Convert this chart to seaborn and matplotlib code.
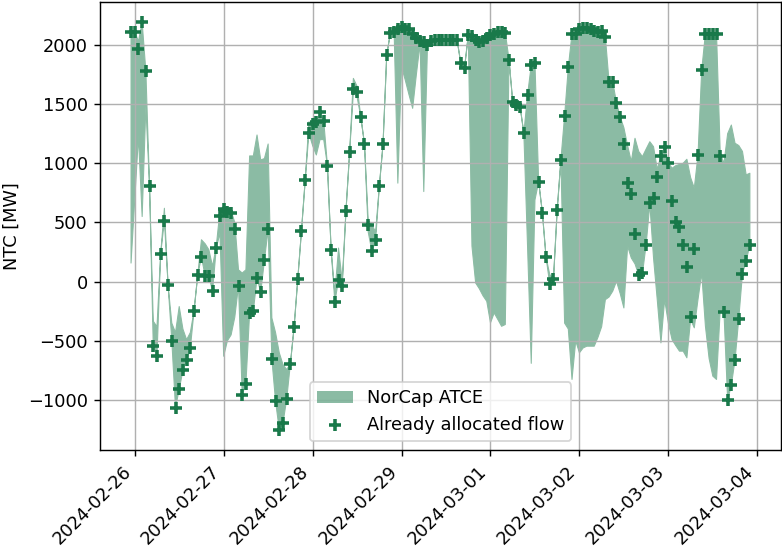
import matplotlib
matplotlib.use("Agg")
import matplotlib.pyplot as plt
import matplotlib.dates as mdates
import pandas as pd
import seaborn as sns

# hourly values, first hour 2024-02-25 23:00
start = "2024-02-25 23:00"

flow = [
    2105, 2110, 1961, 2190, 1779, 804, -545, -629, 236, 514, -31, -497,
    -1065, -910, -750, -663, -562, -247, 56, 208, 48, 48, -80, 283,
    551, 610, 592, 584, 449, -34, -955, -862, -264, -250, 31, -90,
    180, 444, -652, -1009, -1250, -1195, -994, -694, -385, 23, 432, 857,
    1253, 1331, 1348, 1430, 1359, 980, 270, -174, 17, -34, 598, 1098,
    1624, 1604, 1393, 1163, 478, 256, 348, 804, 1160, 1913, 2104, 2110,
    2130, 2152, 2138, 2130, 2096, 2054, 2034, 2025, 2000, 2034, 2039, 2039,
    2039, 2039, 2039, 2039, 2039, 1843, 1805, 2081, 2073, 2039, 2025, 2034,
    2054, 2081, 2096, 2110, 2110, 2104, 1876, 1519, 1490, 1478, 1253, 1576,
    1829, 1848, 845, 584, 205, -22, 23, 604, 1028, 1401, 1809, 2096,
    2096, 2130, 2146, 2146, 2130, 2118, 2110, 2118, 2067, 1688, 1688, 1511,
    1393, 1160, 832, 739, 400, 56, 70, 312, 663, 705, 880, 1062,
    1140, 1005, 683, 500, 463, 306, 124, -300, 280, 1070, 1787, 2096,
    2096, 2096, 2096, 1064, -255, -1000, -874, -660, -312, 67, 174, 312,
]

atce_low = [
    157, 690, 1225, 550, 1480, 804, -545, -629, 236, 514, -31, -497,
    -1065, -910, -750, -663, -562, -247, 56, 208, 48, 48, -80, 283,
    410, -630, -500, -450, -300, -34, -955, -862, -264, -250, 31, -90,
    180, 444, -652, -1009, -1250, -1195, -994, -694, -385, 23, 432, 857,
    1253, 1150, 1070, 1200, 1200, 980, 270, -174, 17, -34, 598, 1098,
    1600, 1560, 1393, 1163, 420, 256, 348, 804, 1160, 1913, 2104, 2110,
    832, 1815, 1703, 1580, 1464, 1750, 2012, 761, 2000, 2034, 2039, 2039,
    2039, 2039, 2039, 2039, 2039, 1843, 1805, 2081, 300, -11, -60, -120,
    -166, -348, -264, -320, -377, -362, 1876, 1519, 1490, 1478, 1253, 300,
    -690, 690, 845, 584, 205, -22, 23, 604, 1028, -350, -400, -826,
    -500, -601, -560, -545, -545, -545, -470, -380, -152, -130, -80, 3,
    -100, -222, 300, 200, 150, 56, 67, 312, 657, 200, -152, -517,
    -152, -350, -489, -540, -587, -587, -643, -320, -390, -150, 73, -376,
    -650, -798, -826, -236, -255, -1000, -874, -660, -312, 67, 174, 312,
]

atce_high = [
    2105, 2110, 2030, 2190, 1779, 804, -334, -380, 236, 620, -31, -350,
    -430, -210, -400, -490, -430, -247, 56, 354, 320, 270, 130, 300,
    600, 640, 620, 600, 500, 100, 73, 100, 1062, 1062, 1239, 1028,
    1040, 1163, -306, -430, -600, -700, -742, -694, -385, 23, 432, 857,
    1350, 1331, 1348, 1430, 1359, 980, 270, -100, 284, 0, 598, 1098,
    1717, 1650, 1393, 1163, 520, 480, 420, 804, 1160, 1913, 2104, 2110,
    2130, 2152, 2138, 2130, 2096, 2054, 2034, 2025, 2000, 2034, 2039, 2039,
    2039, 2039, 2039, 2039, 2039, 1843, 1805, 2081, 2073, 2039, 2025, 2034,
    2054, 2081, 2096, 2110, 2110, 2104, 1876, 1519, 1490, 1478, 1253, 1576,
    1829, 1848, 845, 584, 205, 60, 23, 604, 1028, 1401, 1809, 2096,
    2096, 2130, 2146, 2146, 2130, 2118, 2110, 2118, 2067, 1688, 1688, 1511,
    1393, 1300, 1150, 1014, 1211, 1100, 1056, 1120, 1182, 1140, 950, 1062,
    1140, 1005, 958, 980, 990, 1000, 1034, 880, 790, 1070, 1787, 2096,
    2096, 2096, 2096, 1084, 1000, 1250, 1323, 1169, 1150, 1100, 902, 916,
]

times = pd.date_range(start, periods=len(flow), freq="h")
df = pd.DataFrame({"time": times, "flow": flow, "low": atce_low, "high": atce_high})

green = "#19794a"
band = "#8cbca4"  # same green at alpha 0.5 on white

fig, ax = plt.subplots(figsize=(782 / 128, 547 / 128), dpi=128)
fig.subplots_adjust(left=0.128, right=0.9985, top=0.9963, bottom=0.1773)

ax.fill_between(df["time"], df["low"], df["high"], facecolor=green, alpha=0.5,
                edgecolor="none", label="NorCap ATCE")
ax.fill_between(df["time"], df["low"], df["high"], facecolor="none",
                edgecolor=band, linewidth=0.6)
sns.scatterplot(data=df, x="time", y="flow", marker="+", s=50, linewidth=2,
                color=green, label="Already allocated flow", ax=ax, zorder=3)

ax.grid(True)
ax.xaxis.set_major_locator(mdates.DayLocator())
ax.xaxis.set_major_formatter(mdates.DateFormatter("%Y-%m-%d"))
plt.setp(ax.get_xticklabels(), rotation=45, ha="right")
ax.set_xlabel("")
ax.set_ylabel("NTC [MW]")
ax.legend(loc="lower center")

fig.savefig("out.png", dpi=128)
